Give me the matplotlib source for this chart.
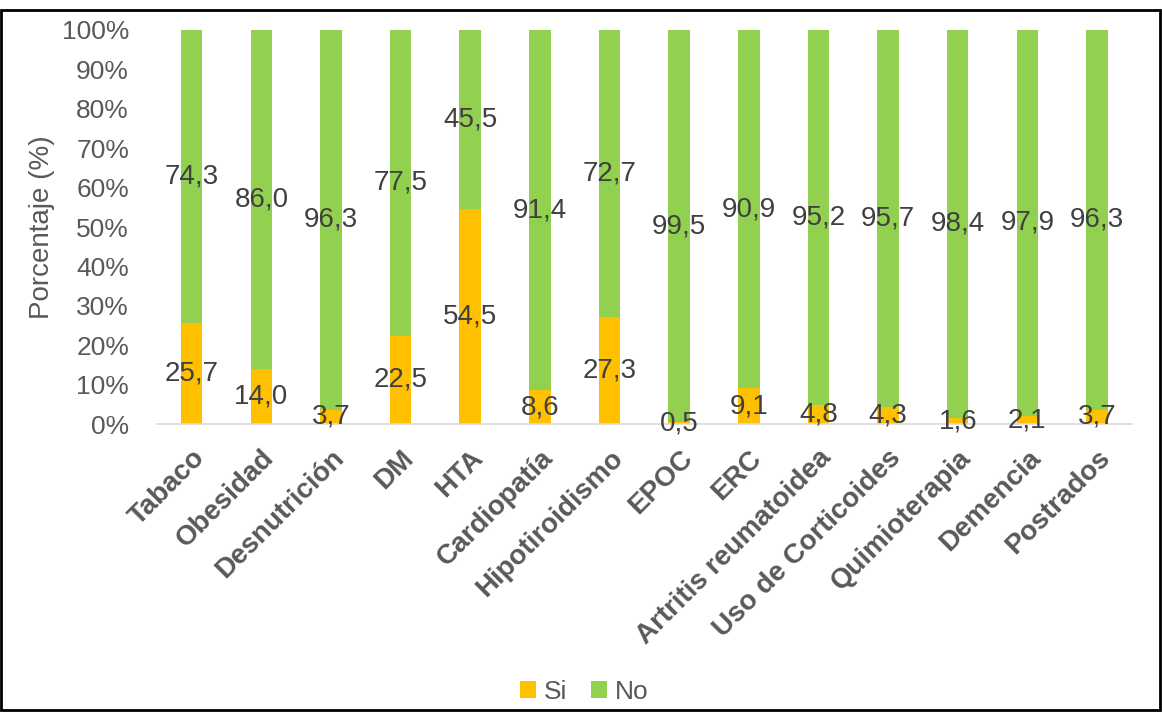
import matplotlib
matplotlib.use("Agg")
import matplotlib.pyplot as plt
from matplotlib.ticker import FuncFormatter, MultipleLocator
from matplotlib.patches import Rectangle

categorias = ['Tabaco', 'Obesidad', 'Desnutrición', 'DM', 'HTA', 'Cardiopatía',
              'Hipotiroidismo', 'EPOC', 'ERC', 'Artritis reumatoidea',
              'Uso de Corticoides', 'Quimioterapia', 'Demencia', 'Postrados']
si = [25.7, 14.0, 3.7, 22.5, 54.5, 8.6, 27.3, 0.5, 9.1, 4.8, 4.3, 1.6, 2.1, 3.7]
no = [74.3, 86.0, 96.3, 77.5, 45.5, 91.4, 72.7, 99.5, 90.9, 95.2, 95.7, 98.4, 97.9, 96.3]

plt.rcParams['font.family'] = ['Liberation Sans', 'DejaVu Sans']

fig = plt.figure(figsize=(11.62, 7.13), dpi=100)
ax = fig.add_axes([0.135, 0.405, 0.839, 0.553])

x = range(len(categorias))
w = 0.31
b1 = ax.bar(x, si, w, color='#FFC000', label='Si')
b2 = ax.bar(x, no, w, bottom=si, color='#92D050', label='No')

fmt = lambda v: f'{v:.1f}'.replace('.', ',')
ax.bar_label(b1, labels=[fmt(v) for v in si], label_type='center', fontsize=20, color='#404040')
ax.bar_label(b2, labels=[fmt(v) for v in no], label_type='center', fontsize=20, color='#404040')

ax.set_xlim(-0.5, len(categorias) - 0.5)
ax.set_ylim(0, 100)
ax.yaxis.set_major_locator(MultipleLocator(10))
ax.yaxis.set_major_formatter(FuncFormatter(lambda v, p: f'{v:.0f}%'))
ax.set_xticks(list(x))
ax.set_xticklabels(categorias, rotation=45, ha='right', rotation_mode='anchor',
                   fontsize=20, fontweight='bold', color='#595959')
ax.tick_params(axis='y', length=0, labelsize=19, labelcolor='#595959', pad=20)
ax.tick_params(axis='x', length=0, pad=15)
for s in ['top', 'right', 'left']:
    ax.spines[s].set_visible(False)
ax.spines['bottom'].set_color('#D9D9D9')
ax.spines['bottom'].set_linewidth(1.2)
ax.set_ylabel('Porcentaje (%)', fontsize=20, color='#595959')
ax.yaxis.set_label_coords(-0.104, 0.5)

fig.legend(loc='lower center', bbox_to_anchor=(0.503, -0.02), ncol=2, frameon=False,
           fontsize=19, labelcolor='#595959', handlelength=0.6, handleheight=0.6,
           handletextpad=0.3, columnspacing=0.9)

fig.patches.append(Rectangle((0.001, 0.004), 0.997, 0.982, transform=fig.transFigure,
                             fill=False, edgecolor='black', linewidth=2))

fig.savefig('out.png', dpi=100)
